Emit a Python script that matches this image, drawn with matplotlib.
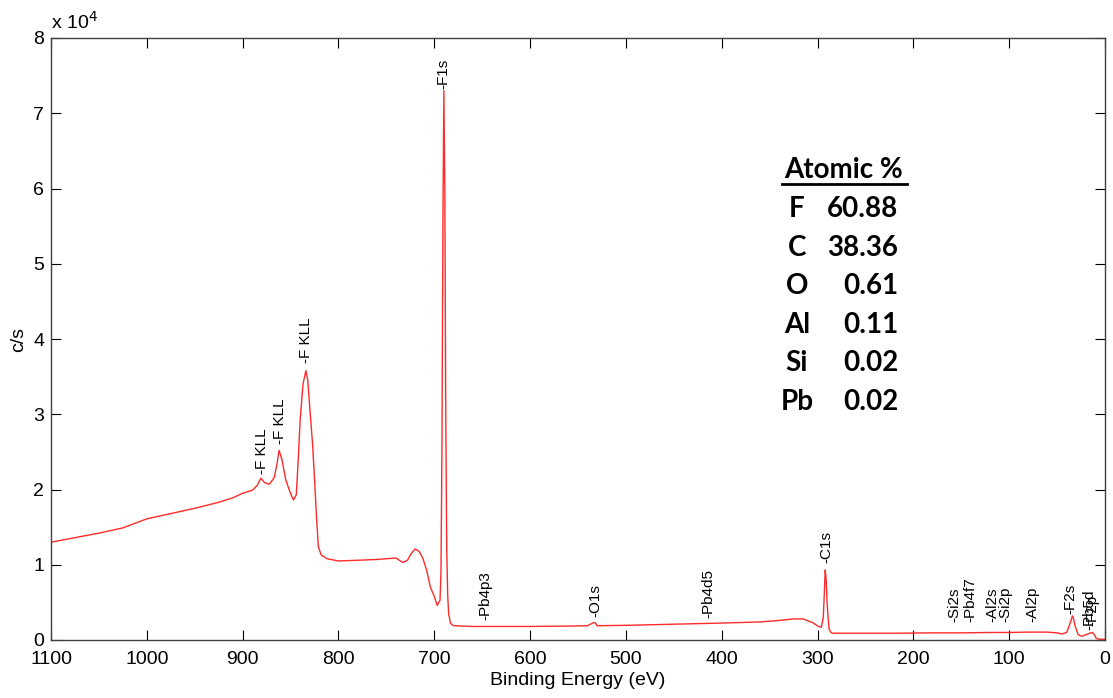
import matplotlib
matplotlib.use('Agg')
import matplotlib.pyplot as plt
import numpy as np
from matplotlib.lines import Line2D

# Survey spectrum (binding energy in eV, counts in c/s).
energy_ev = [
    1100, 1075, 1050, 1025, 1000, 975, 950, 925, 910, 900, 890, 885, 881,
    877, 872, 867, 864, 862, 859, 855, 851, 847, 844, 842, 840, 837, 834,
    832, 830, 827, 825, 823, 821, 818, 812, 800, 780, 760, 740, 733, 728,
    724, 720, 716, 712, 708, 704, 700, 697, 694, 693, 692, 691, 690, 689,
    688, 687, 686, 685, 683, 680, 660, 640, 600, 560, 540, 534, 532, 530,
    500, 450, 400, 360, 340, 325, 315, 305, 299, 296, 294, 293, 292, 291,
    290, 289, 288, 286, 284, 260, 220, 180, 150, 120, 100, 80, 60, 50, 45,
    40, 37, 35, 34, 33, 31, 28, 24, 20, 16, 13, 11, 9, 6, 3, 0,
]
counts = [
    13000, 13600, 14200, 14900, 16100, 16800, 17500, 18300, 18900, 19500,
    19900, 20500, 21500, 20900, 20700, 21600, 23500, 25200, 24000, 21300,
    19800, 18600, 19300, 23900, 29200, 34000, 35800, 34500, 31000, 26000,
    21500, 16500, 12400, 11300, 10800, 10500, 10600, 10700, 10900, 10300,
    10600, 11500, 12100, 11800, 10900, 9300, 7000, 5800, 4600, 5300, 9000,
    25000, 55000, 73000, 60000, 30000, 12000, 6000, 3500, 2200, 1900, 1800,
    1800, 1800, 1850, 1900, 2300, 2300, 1900, 1950, 2100, 2250, 2400, 2600,
    2800, 2800, 2300, 1800, 1700, 3000, 6000, 9300, 8000, 5000, 3000, 1500,
    1000, 900, 900, 900, 950, 950, 1000, 1000, 1050, 1050, 950, 800, 1000,
    2000, 2800, 3200, 2900, 1800, 700, 500, 700, 900, 1000, 700, 200, 100,
    100, 100,
]

# Peak markers: label, energy (eV), text base height (c/s)
peak_labels = ['F1s', 'F KLL', 'F KLL', 'F KLL', 'Pb4p3', 'O1s', 'Pb4d5',
               'C1s', 'Si2s', 'Pb4f7', 'Al2s', 'Si2p', 'Al2p', 'F2s',
               'Pb5d', 'F2p']
peak_energy = [690, 834, 861, 880, 647, 532, 414, 291, 157, 141, 118, 104,
               76, 36, 16, 13]
label_base = [73200, 36800, 26000, 22100, 2700, 3100, 2900, 10200, 2400,
              2400, 2400, 2400, 2400, 3500, 1300, 1900]

elements = ['F', 'C', 'O', 'Al', 'Si', 'Pb']
atomic_pct = ['60.88', '38.36', '0.61', '0.11', '0.02', '0.02']

W, H = 1113, 698
plt.rcParams['font.family'] = ['Liberation Sans', 'DejaVu Sans']

fig = plt.figure(figsize=(W / 100, H / 100), dpi=100)
ax = fig.add_axes([51 / W, 1 - 640 / H, (1105 - 51) / W, (640 - 38) / H])

ax.plot(energy_ev, np.array(counts) / 1e4, color='#ff2a2a', lw=1.0)

for lab, e, yb in zip(peak_labels, peak_energy, label_base):
    ax.text(e, yb / 1e4, '-' + lab, rotation=90, ha='center', va='bottom',
            fontsize=11, color='black')

ax.set_xlim(1100, 0)
ax.set_ylim(0, 8)
ax.set_xticks(np.arange(0, 1101, 100))
ax.set_yticks(np.arange(0, 9, 1))
ax.tick_params(direction='in', length=7, width=0.8, top=True, right=True,
               labelsize=14, colors='black')
ax.tick_params(axis='x', pad=8)
ax.tick_params(axis='y', pad=5)
for sp in ax.spines.values():
    sp.set_color('#404040')
    sp.set_linewidth(1.0)

ax.set_xlabel('Binding Energy (eV)', fontsize=14, labelpad=3)
ax.set_ylabel('c/s', fontsize=14, labelpad=4)
ax.text(0, 1.008, r'x 10$^{4}$', transform=ax.transAxes, ha='left',
        va='bottom', fontsize=14)

# Atomic % table
tbl_font = ['Lato', 'DejaVu Sans']
tsize = 20
fig.text(844 / W, 1 - 170 / H, 'Atomic %', ha='center', va='center',
         fontsize=tsize, fontweight='bold', family=tbl_font)
fig.add_artist(Line2D([782 / W, 907 / W], [1 - 184 / H, 1 - 184 / H],
                      color='black', lw=2, transform=fig.transFigure))
for i, (el, pc) in enumerate(zip(elements, atomic_pct)):
    yy = 1 - (209 + i * 38.6) / H
    fig.text(797 / W, yy, el, ha='center', va='center', fontsize=tsize,
             fontweight='bold', family=tbl_font)
    fig.text(898 / W, yy, pc, ha='right', va='center', fontsize=tsize,
             fontweight='bold', family=tbl_font)

fig.savefig('out.png', dpi=100)
